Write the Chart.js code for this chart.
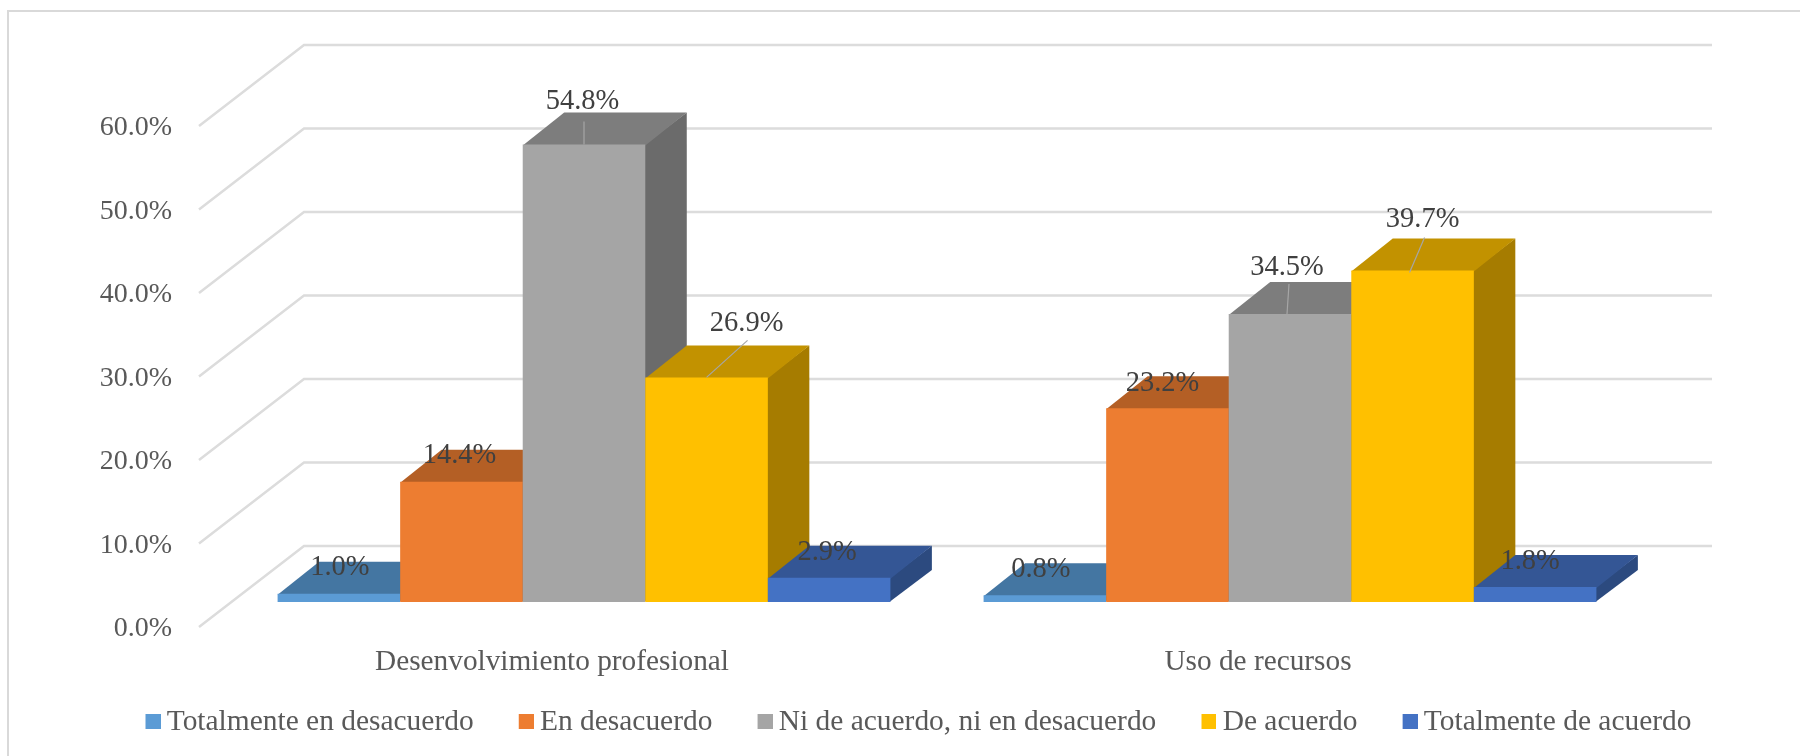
<!DOCTYPE html>
<html><head><meta charset="utf-8">
<style>html,body{margin:0;padding:0;background:#fff}canvas{display:block}</style>
<script src="https://cdn.jsdelivr.net/npm/chart.js@4"></script>
</head><body>
<canvas id="c" width="1800" height="756"></canvas>
<script>
const categories = ['Desenvolvimiento profesional', 'Uso de recursos'];
const seriesNames = ['Totalmente en desacuerdo', 'En desacuerdo', 'Ni de acuerdo, ni en desacuerdo', 'De acuerdo', 'Totalmente de acuerdo'];
const totalmenteEnDesacuerdo = [1.0, 0.8];
const enDesacuerdo = [14.4, 23.2];
const niDeAcuerdo = [54.8, 34.5];
const deAcuerdo = [26.9, 39.7];
const totalmenteDeAcuerdo = [2.9, 1.8];
const seriesValues = [totalmenteEnDesacuerdo, enDesacuerdo, niDeAcuerdo, deAcuerdo, totalmenteDeAcuerdo];
const yTicks = [0, 10, 20, 30, 40, 50, 60];

const frontColors = ['#5B9BD5', '#ED7D31', '#A5A5A5', '#FFC000', '#4472C4'];
const topColors = ['#4476A2', '#B45F25', '#7D7D7D', '#C29200', '#345695'];
const sideColors = ['#3B6589', '#9A5120', '#6B6B6B', '#A67C00', '#2C4A7F'];

const FONT = '"Liberation Serif", "Times New Roman", serif';
const SIZE = 28;
const LABEL_SIZE = 28.5;
const TEXT_SIZE = 29.45;
const LEGEND_PAD = 50.6;
// wall depth and bar placement inside it
const WALL = {dx: 105, dy: -81};
const BAR_SHIFT = {dx: 32, dy: -25};
const BAR_DEPTH = {dx: 41.5, dy: -32};

// label placement relative to the bar's front-top centre, per series then category
const labelNudge = [
  [[1, -26.5], [-4, -25.5]],
  [[-2, -26.5], [-5, -24.5]],
  [[-1.5, -42.5], [-3, -46]],
  [[40, -53.5], [10, -51]],
  [[-2, -25], [-5, -25.5]]
];
const leaderLines = [
  [null, null],
  [null, null],
  [[0, 0, 0, -23], [-3, 0, -1, -30]],
  [[0, 0, 41, -37], [-3, 2, 12, -33]],
  [null, null]
];

function swatch(color) {
  const cv = document.createElement('canvas');
  cv.width = 18; cv.height = 15;
  const g = cv.getContext('2d');
  g.fillStyle = color;
  g.fillRect(3, 0, 15, 15);
  return cv;
}

const wall3d = {
  id: 'wall3d',
  afterLayout(chart) {
    const l = chart.legend;
    l.left = 151 - LEGEND_PAD; l.right = 1800; l.top = 656.5; l.bottom = 756;
  },
  beforeDraw(chart) {
    const c = chart.ctx;
    c.save();
    c.strokeStyle = '#D9D9D9';
    c.lineWidth = 2;
    c.beginPath();
    c.moveTo(8, 756); c.lineTo(8, 11); c.lineTo(1800, 11);
    c.stroke();
    c.restore();
  },
  beforeDatasetsDraw(chart) {
    const c = chart.ctx, y = chart.scales.y, a = chart.chartArea;
    c.save();
    c.strokeStyle = '#DCDCDC';
    c.lineWidth = 2.5;
    c.lineJoin = 'miter';
    y.ticks.forEach(t => {
      const py = y.getPixelForValue(t.value);
      c.beginPath();
      c.moveTo(a.left, py);
      c.lineTo(a.left + WALL.dx, py + WALL.dy);
      c.lineTo(a.right + WALL.dx - 4, py + WALL.dy);
      c.stroke();
    });
    c.restore();
    // Series are painted left to right, each one with its side and top faces first.
    chart.data.datasets.forEach((ds, i) => {
      const meta = chart.getDatasetMeta(i);
      meta.data.forEach(el => {
        const {x, y: vy, base, width} = el.getProps(['x', 'y', 'base', 'width'], true);
        const l = x - width / 2 + BAR_SHIFT.dx, r = x + width / 2 + BAR_SHIFT.dx;
        const t = vy + BAR_SHIFT.dy, b = base + BAR_SHIFT.dy;
        const dx = BAR_DEPTH.dx, dy = BAR_DEPTH.dy;
        c.fillStyle = sideColors[i];
        c.beginPath();
        c.moveTo(r - 1, t); c.lineTo(r + dx, t + dy); c.lineTo(r + dx, b + dy); c.lineTo(r - 1, b);
        c.closePath(); c.fill();
        c.fillStyle = topColors[i];
        c.beginPath();
        c.moveTo(l, t + 1); c.lineTo(l + dx, t + dy); c.lineTo(r + dx, t + dy); c.lineTo(r, t + 1);
        c.closePath(); c.fill();
      });
      c.save();
      c.translate(BAR_SHIFT.dx, BAR_SHIFT.dy);
      meta.controller.draw();
      c.restore();
    });
  },
  beforeDatasetDraw() {
    return false;
  },
  afterDatasetsDraw(chart) {
    const c = chart.ctx;
    c.save();
    chart.data.datasets.forEach((ds, i) => {
      chart.getDatasetMeta(i).data.forEach((el, j) => {
        const cx = el.x + BAR_SHIFT.dx, top = el.y + BAR_SHIFT.dy;
        const ln = leaderLines[i][j];
        if (ln) {
          c.strokeStyle = '#A6A6A6';
          c.lineWidth = 1.2;
          c.beginPath();
          c.moveTo(cx + ln[0], top + ln[1]);
          c.lineTo(cx + ln[2], top + ln[3]);
          c.stroke();
        }
      });
    });
    c.font = LABEL_SIZE + 'px ' + FONT;
    c.fillStyle = '#404040';
    c.textAlign = 'center';
    c.textBaseline = 'middle';
    chart.data.datasets.forEach((ds, i) => {
      chart.getDatasetMeta(i).data.forEach((el, j) => {
        const n = labelNudge[i][j];
        c.fillText(ds.data[j].toFixed(1) + '%', el.x + BAR_SHIFT.dx + n[0], el.y + BAR_SHIFT.dy + n[1]);
      });
    });
    c.restore();
  }
};

new Chart(document.getElementById('c'), {
  type: 'bar',
  data: {
    labels: categories,
    datasets: seriesNames.map((name, i) => ({
      label: name,
      data: seriesValues[i],
      backgroundColor: frontColors[i],
      borderWidth: 0
    }))
  },
  plugins: [wall3d],
  options: {
    responsive: false,
    animation: false,
    layout: {padding: {left: 0, right: 189, top: 126, bottom: 0}},
    datasets: {bar: {categoryPercentage: 0.868, barPercentage: 1}},
    scales: {
      x: {
        grid: {display: false, drawTicks: false},
        border: {display: false},
        ticks: {color: '#595959', padding: 18, maxRotation: 0, font: {family: FONT, size: 29.3}},
        afterFit(s) { s.height = 129 - s.chart.legend.height; }
      },
      y: {
        min: 0, max: 60,
        grid: {display: false, drawTicks: false},
        border: {display: false},
        afterBuildTicks(s) { s.ticks = yTicks.map(v => ({value: v})); },
        ticks: {
          color: '#595959', padding: 27, labelOffset: 2,
          font: {family: FONT, size: SIZE},
          callback: v => v.toFixed(1) + '%'
        },
        afterFit(s) { s.width = 199; }
      }
    },
    plugins: {
      tooltip: {enabled: false},
      title: {display: false},
      legend: {
        position: 'bottom',
        align: 'start',
        maxHeight: 30,
        labels: {
          color: '#595959',
          font: {family: FONT, size: TEXT_SIZE},
          usePointStyle: true,
          pointStyleWidth: 1,
          boxHeight: TEXT_SIZE,
          padding: LEGEND_PAD,
          generateLabels(chart) {
            return Chart.defaults.plugins.legend.labels.generateLabels(chart).map((it, i) => {
              it.pointStyle = swatch(frontColors[i]);
              return it;
            });
          }
        }
      }
    }
  }
});
</script>
</body></html>
